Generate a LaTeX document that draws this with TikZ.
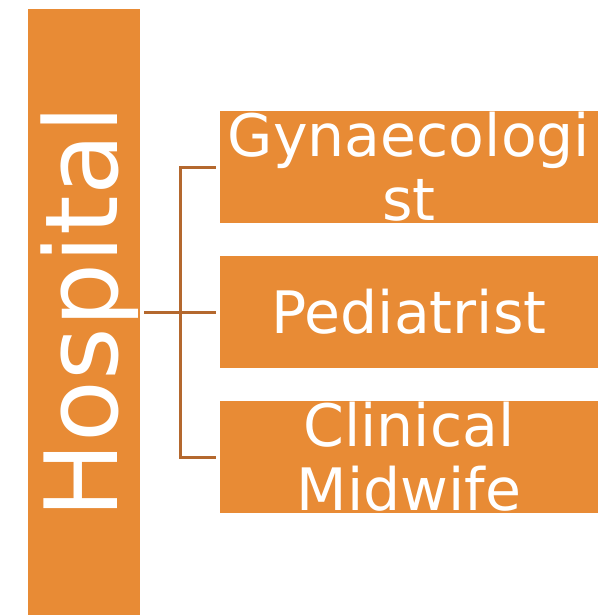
\documentclass[tikz,border=0pt]{standalone}
\usepackage{fontspec}
\setmainfont{DejaVu Sans}
\definecolor{boxorange}{RGB}{232,139,53}
\definecolor{linkbrown}{RGB}{180,104,46}
\begin{document}
\begin{tikzpicture}[x=1pt,y=-1pt,
  itembox/.style={fill=boxorange,draw=none,minimum width=378pt,minimum height=112pt,inner sep=0pt,
    text=white,align=center,font=\fontsize{58.5}{64}\selectfont},
  link/.style={draw=linkbrown,line width=3pt}]
\useasboundingbox (0,0) rectangle (600,615);
\node[fill=boxorange,minimum width=112pt,minimum height=606pt,inner sep=0pt,anchor=north west] (bar) at (28,9) {};
\begin{scope}
\clip (28,9) rectangle (140,615);
\node[rotate=90,anchor=base,text=white,inner sep=0pt,font=\fontsize{101}{110}\selectfont] (hosp) at (117,312) {Hospital};
\end{scope}
\node[itembox] (g) at (409,167) {Gynaecologi\\st};
\node[itembox] (p) at (409,312) {Pediatrist};
\node[itembox] (c) at (409,457) {Clinical\\Midwife};
\coordinate (j) at (180,312);
\coordinate (s) at (144,312);
\draw[link] (s) -- (j) -- ([xshift=-4pt]p.west);
\draw[link] ([xshift=-4pt]g.west) -| (j) |- ([xshift=-4pt]c.west);
\end{tikzpicture}
\end{document}
